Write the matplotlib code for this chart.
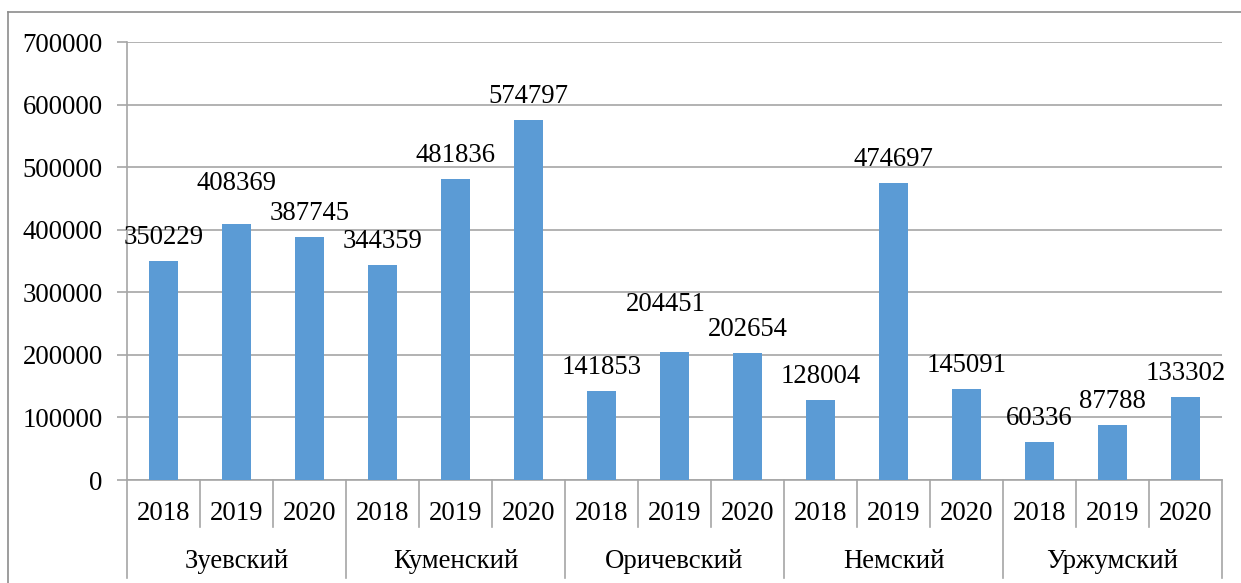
import matplotlib
matplotlib.use("Agg")
import matplotlib.pyplot as plt
from matplotlib.lines import Line2D

districts = ["Зуевский", "Куменский", "Оричевский", "Немский", "Уржумский"]
years = ["2018", "2019", "2020"]
values = [350229, 408369, 387745,
          344359, 481836, 574797,
          141853, 204451, 202654,
          128004, 474697, 145091,
          60336, 87788, 133302]
yticks = [0, 100000, 200000, 300000, 400000, 500000, 600000, 700000]

plt.rcParams['font.family'] = ['Liberation Serif', 'DejaVu Serif']
FS = 19.3
GRID = "#a6a6a6"
BAR = "#5b9bd5"

W, H = 1241, 583
fig = plt.figure(figsize=(W / 100, H / 100), dpi=100)
L, R, B, T = 127, 1222, 480, 42
ax = fig.add_axes([L / W, 1 - B / H, (R - L) / W, (B - T) / H])

n = len(values)
x = list(range(n))
ax.bar(x, values, width=0.4, color=BAR, zorder=3)
ax.set_xlim(-0.5, n - 0.5)
ax.set_ylim(0, 700000)
ax.set_yticks(yticks)
ax.set_yticklabels([str(v) for v in yticks], fontsize=FS)
ax.yaxis.grid(True, color=GRID, linewidth=1.2, zorder=0)
ax.tick_params(axis='y', length=7, color=GRID, width=1.2, pad=10.5)
ax.set_xticks([])
for s in ["top", "right"]:
    ax.spines[s].set_visible(False)
for s in ["left", "bottom"]:
    ax.spines[s].set_color(GRID)
    ax.spines[s].set_linewidth(1.2)

# data labels (a few were moved by hand in the original)
label_shift = {1: (0, 12.5), 7: (-6, 17.5)}   # extra offset in points
for xi, v in zip(x, values):
    dx, dy = label_shift.get(xi, (0, 0))
    ax.annotate(str(v), (xi, v), xytext=(dx, 12.2 + dy), textcoords="offset points",
                ha="center", va="baseline", fontsize=FS, zorder=4)

# multi-level category axis
trans = ax.get_xaxis_transform()
def ypx(py):
    return -(py - B) / (B - T)

for i in range(n):
    ax.text(i, ypx(520), years[i % 3], ha="center", va="baseline",
            fontsize=FS, transform=trans, clip_on=False)
for b in range(n + 1):
    bx = b - 0.5
    bottom = 578 if b % 3 == 0 else 527
    ax.add_line(Line2D([bx, bx], [0, ypx(bottom)], transform=trans,
                       color=GRID, linewidth=1.2, clip_on=False))
for g, name in enumerate(districts):
    ax.text(g * 3 + 1, ypx(568.5), name, ha="center", va="baseline",
            fontsize=FS, transform=trans, clip_on=False)

# outer frame
fx0, fy0 = 8 / W, 1 - 12 / H
fig.add_artist(Line2D([fx0, 1], [fy0, fy0], transform=fig.transFigure,
                      color="#8c8c8c", linewidth=1.2))
fig.add_artist(Line2D([fx0, fx0], [0, fy0], transform=fig.transFigure,
                      color="#8c8c8c", linewidth=1.2))

fig.savefig("out.png", dpi=100)
